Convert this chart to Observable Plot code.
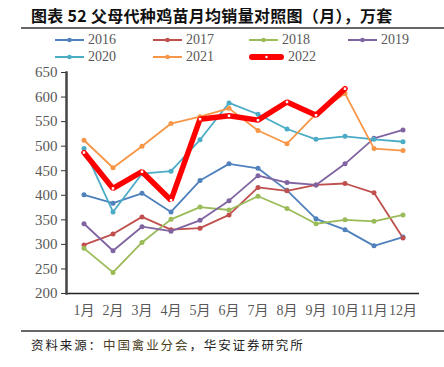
<!DOCTYPE html>
<html><head><meta charset="utf-8">
<script src="https://cdn.jsdelivr.net/npm/d3@7"></script>
<script src="https://cdn.jsdelivr.net/npm/@observablehq/plot@0.6"></script>
<style>
body{margin:0;background:#fff;}
#wrap{position:relative;width:444px;height:367px;overflow:hidden;font-family:"Liberation Serif","Noto Sans CJK SC",serif;}
#title{position:absolute;left:31px;top:4px;font-family:"Noto Sans CJK SC",sans-serif;font-weight:bold;font-size:16px;color:#111;white-space:nowrap;letter-spacing:0.3px;line-height:22px;}
.hr{position:absolute;left:21px;width:423px;height:2px;background:#666;}
#legend{position:absolute;left:0;top:33px;width:444px;}
.li{position:absolute;display:flex;align-items:center;font-size:14px;color:#595959;line-height:12px;height:12px;}
.li svg{margin-right:4px;}
#plot{position:absolute;left:0;top:60px;}
#cap{position:absolute;left:31px;top:335px;font-family:"Noto Sans CJK SC",sans-serif;font-size:12.5px;letter-spacing:1.9px;color:#222;white-space:nowrap;}
#cap .src{color:#4a3f1e;}
</style></head>
<body>
<div id="wrap">
  <div id="title">图表 52 父母代种鸡苗月均销量对照图（月），万套</div>
  <div class="hr" style="top:27px"></div>
  <div id="legend"></div>
  <div id="plot"></div>
  <div class="hr" style="top:330px"></div>
  <div id="cap">资料来源：<span class="src">中国禽业分会</span>，华安证券研究所</div>
</div>
<script>
const months = ["1月","2月","3月","4月","5月","6月","7月","8月","9月","10月","11月","12月"];
const years = ["2016","2017","2018","2019","2020","2021","2022"];
const colors = ["#4F81BD","#C0504D","#9BBB59","#8064A2","#4BACC6","#F79646","#FF0000"];
const v2016 = [401,384,404,366,430,464,455,410,352,330,297,315];
const v2017 = [299,321,356,330,333,360,416,409,421,424,405,313];
const v2018 = [292,243,304,351,376,370,398,373,342,350,347,360];
const v2019 = [342,287,336,327,349,389,440,426,421,464,516,533];
const v2020 = [495,366,444,449,513,588,565,535,514,520,514,509];
const v2021 = [512,456,500,546,560,577,532,505,566,607,495,491];
const v2022 = [487,414,448,390,555,562,553,590,563,617];
const yTicks = [200,250,300,350,400,450,500,550,600,650];

const series = [v2016,v2017,v2018,v2019,v2020,v2021,v2022];
const data = [];
series.forEach((arr,i)=>arr.forEach((v,j)=>data.push({year:years[i],month:months[j],value:v})));
const thin = data.filter(d=>d.year!=="2022");
const bold = data.filter(d=>d.year==="2022");

// legend
const leg = document.getElementById("legend");
const legPos = [[55,7],[153,7],[249,7],[348,7],[55,23.5],[153,23.5],[249,23.5]];
years.forEach((y,i)=>{
  const d = document.createElement("div");
  d.className="li";
  d.style.left=legPos[i][0]+"px"; d.style.top=(legPos[i][1]-6)+"px";
  const is22 = y==="2022";
  const w = is22?35:29;
  d.innerHTML = `<svg width="${w}" height="12"><line x1="${is22?3:0}" x2="${is22?w-3:w}" y1="6" y2="6" stroke="${colors[i]}" stroke-width="${is22?6:2}" stroke-linecap="round"/><circle cx="${w/2}" cy="6" r="${is22?1.2:2.3}" fill="${is22?'#fff':colors[i]}"/></svg><span>${y}</span>`;
  leg.appendChild(d);
});

const chart = Plot.plot({
  width:444, height:265,
  marginLeft:66, marginRight:25, marginTop:12, marginBottom:32,
  x:{type:"band", domain:months, padding:0, label:null},
  y:{domain:[200,650], label:null},
  color:{domain:years, range:colors},
  style:{fontFamily:"'Liberation Serif','Noto Sans CJK SC',serif", fontSize:"14px", color:"#595959", background:"transparent"},
  marks:[
    Plot.axisY({ticks:yTicks, tickSize:5, tickPadding:4, stroke:"#333", fontSize:15, fill:"#595959", label:null}),
    Plot.axisX({tickSize:0, tickPadding:12, fontSize:14, fill:"#595959", label:null}),
    Plot.ruleY([200], {stroke:"#222", strokeWidth:1.5}),
    Plot.frame({anchor:"left", stroke:"#444", strokeWidth:2.5}),
    Plot.line(thin, {x:"month", y:"value", z:"year", stroke:"year", strokeWidth:1.8}),
    Plot.dot(thin, {x:"month", y:"value", fill:"year", r:2.5, stroke:null}),
    Plot.line(bold, {x:"month", y:"value", stroke:"#FF0000", strokeWidth:5.5, strokeLinejoin:"miter"}),
    Plot.dot(bold, {x:"month", y:"value", fill:"#fff", r:1.4, symbol:"square"})
  ]
});
document.getElementById("plot").appendChild(chart);
</script>
</body></html>
